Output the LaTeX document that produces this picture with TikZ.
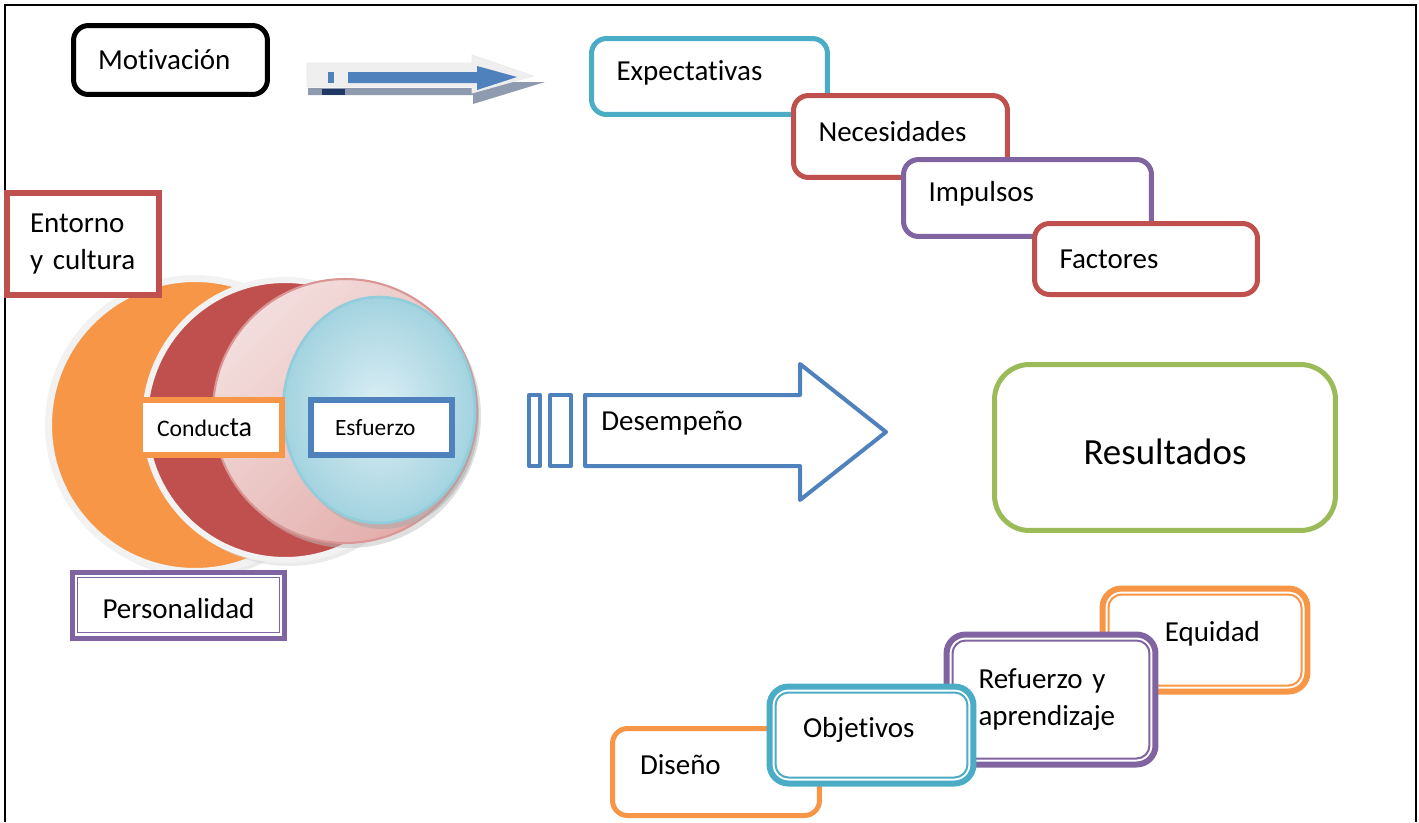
\documentclass[tikz,border=0pt]{standalone}
\usepackage{fontspec}
\setmainfont{Carlito}[Ligatures=NoCommon]
\usepackage{tikz}
\definecolor{OffBlue}{RGB}{79,129,189}
\definecolor{OffRed}{RGB}{192,80,77}
\definecolor{OffGreen}{RGB}{155,187,89}
\definecolor{OffPurple}{RGB}{128,100,162}
\definecolor{OffAqua}{RGB}{75,172,198}
\definecolor{OffOrange}{RGB}{247,150,70}
\definecolor{RingGray}{RGB}{242,242,242}
\definecolor{PinkLight}{RGB}{243,222,221}
\definecolor{PinkDark}{RGB}{226,172,170}
\definecolor{PinkEdge}{RGB}{217,150,148}
\definecolor{AquaLight}{RGB}{221,239,245}
\definecolor{AquaDark}{RGB}{163,211,224}
\definecolor{AquaEdge}{RGB}{146,205,220}
\definecolor{ShadowGray}{RGB}{142,154,173}
\definecolor{ArrowLight}{RGB}{239,239,239}
\definecolor{Navy}{RGB}{31,56,100}

\begin{document}
\begin{tikzpicture}[x=0.02cm, y=-0.02cm,
            font=\fontsize{16.5}{21}\selectfont,
            caja/.style={draw, fill=white, line width=0.1cm, outer sep=0pt, rounded corners=0.3cm, align=left, inner xsep=0.5cm},
            recto/.style={draw, fill=white, line width=0.12cm, outer sep=0pt, align=left},
            doble/.style={caja, line width=0.12cm, rounded corners=0.38cm},
            anillo/.style={draw=RingGray},
            bloque/.style={draw=OffBlue, line width=0.08cm, line join=round}
        ]
            \useasboundingbox (0,0) rectangle (1419,822);
            % Frame
            \draw [line width=0.05cm] (5,822) -- (5,5) -- (1416,5) -- (1416,822);

            % Motivation
            \node (mot) at (170.5,60) [caja, draw=black, minimum width=3.88cm, minimum height=1.38cm, text width=2.9cm, inner xsep=0.49cm] {Motivación};
            \fill [ShadowGray] (308,88) -- (472,88) -- (472,82) -- (545,82) -- (473,104) -- (473,95) -- (308,95) -- cycle;
            \fill [Navy] (322,89) rectangle (345,95);
            \filldraw [fill=ArrowLight, draw=black!8, line width=0.5pt] (307,63) -- (472,63) -- (472,55) -- (533,76) -- (472,93) -- (472,87) -- (307,87) -- cycle;
            \fill [OffBlue] (348,72) -- (477,72) -- (477,66) -- (517,77) -- (477,90) -- (477,83) -- (348,83) -- cycle;
            \fill [OffBlue] (328,72) rectangle (334,83);

            % Expectations chain
            \node (exp) at (709.5,76.5) [caja, draw=OffAqua, minimum width=4.72cm, minimum height=1.52cm, text width=3.72cm, text depth=7pt] {Expectativas};
            \node (nec) at (900.5,136.5) [caja, draw=OffRed, minimum width=4.28cm, minimum height=1.64cm, text width=3.28cm, text depth=6pt] {Necesidades};
            \node (imp) at (1027.5,198) [caja, draw=OffPurple, minimum width=4.96cm, minimum height=1.54cm, text width=3.96cm, text depth=7pt] {Impulsos};
            \node (fac) at (1146,259) [caja, draw=OffRed, minimum width=4.46cm, minimum height=1.42cm, text width=3.46cm] {Factores};

            % Circles
            \fill [black!20, opacity=0.4] (199,431) circle [radius=2.93cm];
            \draw [anillo, line width=0.14cm, fill=OffOrange] (195,425) circle [radius=2.93cm];
            \fill [black!20, opacity=0.4] (289,426) circle [radius=2.8cm];
            \draw [anillo, line width=0.12cm, fill=OffRed] (285,420) circle [radius=2.8cm];
            \fill [black!25, opacity=0.5] (349,416) circle [radius=2.64cm];
            \draw [draw=PinkEdge, line width=1.2pt, top color=PinkLight, bottom color=PinkDark, shading angle=45] (345,411) circle [radius=2.64cm];
            \fill [black!35, opacity=0.5] (383,416) ellipse [x radius=1.92cm, y radius=2.26cm];
            \draw [draw=AquaEdge, line width=1.5pt, inner color=AquaLight, outer color=AquaDark] (379,410) ellipse [x radius=1.92cm, y radius=2.26cm];

            \node (ent) at (83,244) [recto, draw=OffRed, minimum width=3.04cm, minimum height=2.04cm, text width=2.12cm, inner xsep=0.46cm] {Entorno\\y cultura};
            \node (con) at (211,427.5) [recto, draw=OffOrange, minimum width=2.84cm, minimum height=1.1cm, text width=2.16cm, inner xsep=0.34cm] {{\fontsize{13.5}{16}\selectfont Conduc}{\fontsize{16}{19}\selectfont ta}};
            \node (esf) at (381.5,427.5) [recto, draw=OffBlue, minimum width=2.82cm, minimum height=1.1cm, text width=1.86cm, inner xsep=0.48cm, font=\fontsize{13.3}{16}\selectfont] {Esfuerzo};
            \node (per) at (178.5,605) [recto, draw=OffPurple, line width=0.1cm, minimum width=4.26cm, minimum height=1.32cm, align=center, text height=16pt] {Personalidad};
            \draw [OffPurple, line width=0.03cm] ([shift={(0.11cm,-0.11cm)}]per.north west) rectangle ([shift={(-0.11cm,0.11cm)}]per.south east);

            % Performance arrow
            \draw [bloque] (529,395) rectangle (540,466);
            \draw [bloque] (550,395) rectangle (571,466);
            \draw [bloque] (585,395) -- (800,395) -- (800,364) -- (886,432) -- (800,500) -- (800,466) -- (585,466) -- cycle;
            \node (des) at (601,423) [anchor=west, inner sep=0pt] {Desempeño};

            \node (res) at (1165,447.5) [caja, draw=OffGreen, rounded corners=0.7cm, minimum width=6.82cm, minimum height=3.32cm, align=center, font=\fontsize{21}{25}\selectfont, text height=20pt] {Resultados};

            % Steps
            \node (dis) at (716,772) [caja, draw=OffOrange, minimum width=4.14cm, minimum height=1.74cm, text width=3.04cm, inner xsep=0.55cm, text depth=9pt] {Diseño};
            \node (equ) at (1205,640) [doble, draw=OffOrange, minimum width=4.1cm, minimum height=2.06cm, text width=2.2cm, inner xsep=0.95cm, align=right, text depth=10pt] {Equidad};
            \draw [OffOrange, line width=0.04cm, rounded corners=0.26cm] ([shift={(0.12cm,-0.12cm)}]equ.north west) rectangle ([shift={(-0.12cm,0.12cm)}]equ.south east);
            \node (ref) at (1051,699.5) [doble, draw=OffPurple, minimum width=4.18cm, minimum height=2.6cm, text width=2.9cm, inner xsep=0.64cm] {Refuerzo y\\aprendizaje};
            \draw [OffPurple, line width=0.04cm, rounded corners=0.26cm] ([shift={(0.12cm,-0.12cm)}]ref.north west) rectangle ([shift={(-0.12cm,0.12cm)}]ref.south east);
            \node (obj) at (871.5,735) [doble, draw=OffAqua, minimum width=4.08cm, minimum height=1.94cm, text width=2.74cm, inner xsep=0.67cm, text depth=9pt] {Objetivos};
            \draw [OffAqua, line width=0.04cm, rounded corners=0.26cm] ([shift={(0.12cm,-0.12cm)}]obj.north west) rectangle ([shift={(-0.12cm,0.12cm)}]obj.south east);
        \end{tikzpicture}
\end{document}
